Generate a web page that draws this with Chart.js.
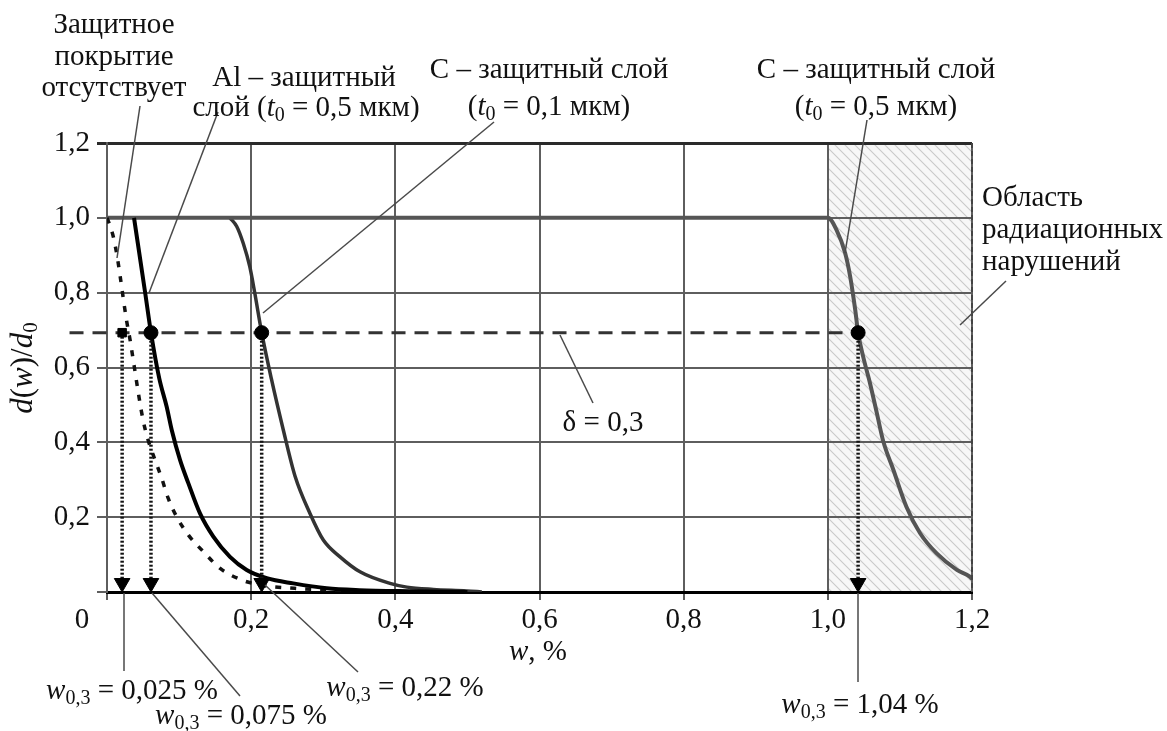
<!DOCTYPE html>
<html><head><meta charset="utf-8">
<script src="https://cdn.jsdelivr.net/npm/chart.js@4.4.1/dist/chart.umd.min.js"></script>
<style>html,body{margin:0;padding:0;background:#fff;}#wrap{width:1167px;height:731px;position:relative;}</style>
</head><body><div id="wrap"><canvas id="c" width="1167" height="731"></canvas></div>
<script>
// ---- data ----
const xTicks = [0, 0.2, 0.4, 0.6, 0.8, 1.0, 1.2];
const yTicks = [0, 0.2, 0.4, 0.6, 0.8, 1.0, 1.2];

// no protective coating (dotted)
const noCoatX = [0, 0.003, 0.0087, 0.0145, 0.019, 0.0235, 0.027, 0.032, 0.038, 0.0445, 0.05, 0.057, 0.0666, 0.0759, 0.085, 0.0967, 0.113, 0.1336, 0.157, 0.187, 0.212, 0.26, 0.32, 0.40, 0.50];
const noCoatY = [1.0, 0.985, 0.95, 0.892, 0.834, 0.772, 0.727, 0.674, 0.6, 0.52, 0.46, 0.406, 0.353, 0.304, 0.25, 0.201, 0.152, 0.108, 0.063, 0.032, 0.019, 0.01, 0.005, 0.002, 0];

// Al protective layer, t0 = 0.5 um
const alX = [0.0375, 0.053, 0.061, 0.0725, 0.0828, 0.0898, 0.1013, 0.1128, 0.129, 0.1475, 0.1706, 0.1938, 0.2216, 0.2585, 0.3048, 0.35, 0.42, 0.5];
const alY = [1.0, 0.799, 0.693, 0.571, 0.495, 0.433, 0.353, 0.291, 0.21, 0.148, 0.094, 0.059, 0.037, 0.023, 0.01, 0.005, 0.002, 0];

// C protective layer, t0 = 0.1 um
const c01X = [0.1706, 0.18, 0.189, 0.198, 0.205, 0.2146, 0.228, 0.2446, 0.2608, 0.2816, 0.3001, 0.3233, 0.351, 0.3926, 0.416, 0.4527, 0.499, 0.52];
const c01Y = [1.0, 0.977, 0.932, 0.87, 0.799, 0.693, 0.57, 0.433, 0.31, 0.21, 0.139, 0.094, 0.054, 0.023, 0.013, 0.007, 0.003, 0];

// C protective layer, t0 = 0.5 um
const c05X = [0, 1.0, 1.012, 1.024, 1.031, 1.038, 1.042, 1.049, 1.0585, 1.068, 1.077, 1.091, 1.109, 1.128, 1.151, 1.179, 1.197, 1.2];
const c05Y = [1.0, 1.0, 0.968, 0.906, 0.843, 0.754, 0.693, 0.629, 0.558, 0.478, 0.402, 0.326, 0.228, 0.157, 0.103, 0.059, 0.041, 0.035];

// w_0.3 points at delta = 0.3
const markerX = [0.021, 0.061, 0.2146, 1.042];
const deltaLevel = 0.693;
const deltaLineStart = -0.052;
const arrowEndY = 0.024;
const regionFrom = 1.0, regionTo = 1.2;

// ---- helpers ----
const zip = (xs, ys) => xs.map((x, i) => ({x: x, y: ys[i]}));
const fmt = v => (Math.round(v * 10) / 10).toFixed(1).replace('.', ',');
const FONT = '"Liberation Serif", "Times New Roman", serif';
const FS = 29;

function rich(ctx, runs, x, y, align, size) {
  size = size || FS;
  const fontOf = r => (r.i ? 'italic ' : '') + (r.s ? Math.round(size * 0.68) : size) + 'px ' + FONT;
  let w = 0;
  runs.forEach(r => { ctx.font = fontOf(r); r.w = ctx.measureText(r.t).width; w += r.w; });
  let cx = align === 'center' ? x - w / 2 : align === 'right' ? x - w : x;
  ctx.textBaseline = 'middle';
  ctx.textAlign = 'left';
  runs.forEach(r => { ctx.font = fontOf(r); ctx.fillText(r.t, cx, y + (r.s ? size * 0.25 : 0)); cx += r.w; });
}
const T = t => ({t: t});
const I = t => ({t: t, i: true});
const S = t => ({t: t, s: true});

// hatch pattern for region
function makeHatch() {
  const p = document.createElement('canvas');
  p.width = 10; p.height = 10;
  const g = p.getContext('2d');
  g.fillStyle = '#f7f7f7'; g.fillRect(0, 0, 10, 10);
  g.strokeStyle = '#c9c9c9'; g.lineWidth = 1.1;
  g.beginPath();
  g.moveTo(0, 0); g.lineTo(10, 10);
  g.moveTo(-5, 5); g.lineTo(5, 15);
  g.moveTo(5, -5); g.lineTo(15, 5);
  g.stroke();
  return p;
}

const regionPlugin = {
  id: 'region',
  beforeDraw(chart) {
    const ctx = chart.ctx, xs = chart.scales.x, ys = chart.scales.y;
    ctx.save();
    ctx.fillStyle = '#fff';
    ctx.fillRect(0, 0, chart.width, chart.height);
    const x1 = xs.getPixelForValue(regionFrom), x2 = xs.getPixelForValue(regionTo);
    const y1 = ys.getPixelForValue(1.2), y2 = ys.getPixelForValue(0);
    ctx.fillStyle = ctx.createPattern(makeHatch(), 'repeat');
    ctx.fillRect(x1, y1, x2 - x1, y2 - y1);
    ctx.restore();
  },
  afterDraw(chart) {
    const ctx = chart.ctx, xs = chart.scales.x;
    ctx.save();
    // dashed right border of region
    ctx.strokeStyle = '#444'; ctx.lineWidth = 2; ctx.setLineDash([5, 3]);
    const xr = xs.getPixelForValue(regionTo);
    ctx.beginPath(); ctx.moveTo(xr, chart.chartArea.top); ctx.lineTo(xr, chart.chartArea.bottom); ctx.stroke();
    ctx.setLineDash([]);

    // leader lines
    ctx.strokeStyle = '#4a4a4a'; ctx.lineWidth = 1.5;
    const leaders = [
      [140, 106, 117, 258], [218, 112, 149, 293], [494, 122, 263, 313], [867, 120, 845, 253],
      [1006, 281, 960, 325], [560, 335, 593, 403],
      [124, 593, 124, 671], [152, 593, 240, 696], [265, 585, 358, 672], [858, 593, 858, 682]
    ];
    leaders.forEach(l => { ctx.beginPath(); ctx.moveTo(l[0], l[1]); ctx.lineTo(l[2], l[3]); ctx.stroke(); });

    ctx.fillStyle = '#111';
    // x tick "0"
    rich(ctx, [T('0')], 82, 620, 'center');
    // axis titles
    rich(ctx, [I('w'), T(', %')], 538, 652, 'center');
    ctx.save();
    ctx.translate(24, 368); ctx.rotate(-Math.PI / 2);
    rich(ctx, [I('d'), T('('), I('w'), T(')/'), I('d'), S('0')], 0, 0, 'center', 31);
    ctx.restore();

    // curve labels
    rich(ctx, [T('Защитное')], 114, 25, 'center');
    rich(ctx, [T('покрытие')], 114, 57, 'center');
    rich(ctx, [T('отсутствует')], 114, 88, 'center');
    rich(ctx, [T('Al – защитный')], 304, 78, 'center');
    rich(ctx, [T('слой ('), I('t'), S('0'), T(' = 0,5 мкм)')], 306, 108, 'center');
    rich(ctx, [T('С – защитный слой')], 549, 70, 'center');
    rich(ctx, [T('('), I('t'), S('0'), T(' = 0,1 мкм)')], 549, 107, 'center');
    rich(ctx, [T('С – защитный слой')], 876, 70, 'center');
    rich(ctx, [T('('), I('t'), S('0'), T(' = 0,5 мкм)')], 876, 107, 'center');
    rich(ctx, [T('Область')], 982, 198, 'left');
    rich(ctx, [T('радиационных')], 982, 230, 'left');
    rich(ctx, [T('нарушений')], 982, 262, 'left');
    rich(ctx, [T('δ = 0,3')], 603, 423, 'center');

    // w0.3 labels
    rich(ctx, [I('w'), S('0,3'), T(' = 0,025 %')], 132, 691, 'center');
    rich(ctx, [I('w'), S('0,3'), T(' = 0,075 %')], 241, 716, 'center');
    rich(ctx, [I('w'), S('0,3'), T(' = 0,22 %')], 405, 688, 'center');
    rich(ctx, [I('w'), S('0,3'), T(' = 1,04 %')], 860, 705, 'center');
    ctx.restore();
  }
};

const arrowSets = markerX.map(x => ({
  data: [{x: x, y: deltaLevel}, {x: x, y: arrowEndY}],
  borderColor: '#111', borderWidth: 3.5, borderDash: [2, 2],
  pointRadius: [0, 9], pointStyle: 'triangle', pointRotation: 180,
  pointBackgroundColor: '#000', pointBorderColor: '#000', pointBorderWidth: 1,
  showLine: true, order: 3
}));

const curve = (xs, ys, color, width, extra) => Object.assign({
  data: zip(xs, ys), showLine: true, borderColor: color, borderWidth: width,
  pointRadius: 0, cubicInterpolationMode: 'monotone', order: 5
}, extra || {});

new Chart(document.getElementById('c'), {
  type: 'scatter',
  data: {
    datasets: [
      curve(c05X, c05Y, '#555', 4),
      curve(c01X, c01Y, '#333', 3.5),
      curve(alX, alY, '#000', 4, { order: 4 }),
      curve(noCoatX, noCoatY, '#111', 3.5, { borderDash: [6, 9], order: 4 }),
      { data: [{x: deltaLineStart, y: deltaLevel}, {x: markerX[markerX.length - 1], y: deltaLevel}],
        showLine: true, borderColor: '#333', borderWidth: 3, borderDash: [14, 9], pointRadius: 0, clip: false, order: 2 },
      ...arrowSets,
      { data: markerX.map(x => ({x: x, y: deltaLevel})), showLine: false,
        pointStyle: ['rect', 'circle', 'circle', 'circle'], pointRadius: [6, 7, 7, 7],
        pointBackgroundColor: '#000', pointBorderColor: '#000', order: 1 }
    ]
  },
  plugins: [regionPlugin],
  options: {
    responsive: false, animation: false, devicePixelRatio: 1,
    layout: { padding: { left: 0, right: 195, top: 143, bottom: 99 } },
    plugins: { legend: { display: false }, tooltip: { enabled: false } },
    scales: {
      x: {
        type: 'linear', min: 0, max: 1.2,
        afterFit: s => { s.height = 40; },
        afterBuildTicks: s => { s.ticks = xTicks.map(v => ({value: v})); },
        ticks: { callback: v => v === 0 ? '' : fmt(v), color: '#111', font: { family: FONT, size: FS }, padding: 3, maxRotation: 0 },
        grid: { color: '#5e5e5e', lineWidth: 2, tickLength: 8 },
        border: { display: true, color: '#000', width: 3 }
      },
      y: {
        type: 'linear', min: 0, max: 1.2,
        afterFit: s => { s.width = 107; },
        afterBuildTicks: s => { s.ticks = yTicks.map(v => ({value: v})); },
        ticks: { callback: v => v === 0 ? '' : fmt(v), color: '#111', font: { family: FONT, size: FS }, padding: 7 },
        grid: { color: c => (c.tick && c.tick.value === 1.2) ? '#2a2a2a' : '#5e5e5e', lineWidth: c => (c.tick && c.tick.value === 1.2) ? 3 : 2, tickLength: 10 },
        border: { display: true, color: '#5e5e5e', width: 2 }
      }
    }
  }
});
</script></body></html>
